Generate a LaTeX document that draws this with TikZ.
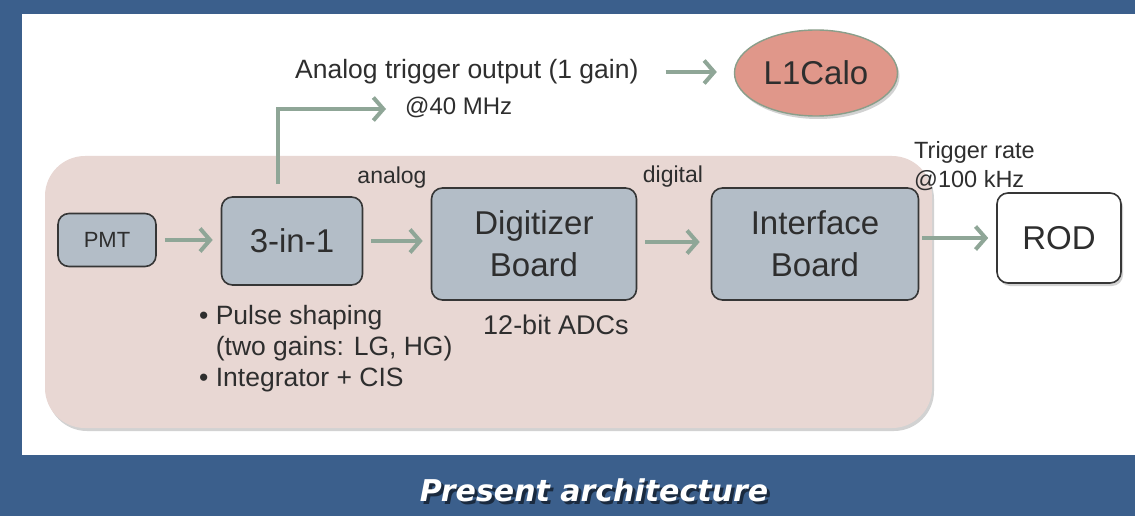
\documentclass[tikz,border=0pt]{standalone}
\usepackage{fontspec}
\setmainfont{Liberation Sans}
\newfontfamily\capfont{DejaVu Sans}
\usepackage{tikz}
\usetikzlibrary{arrows.meta, shapes.geometric, shadows}

\definecolor{slideblue}{HTML}{3B5F8C}
\definecolor{panelpink}{HTML}{E8D7D3}
\definecolor{boardfill}{HTML}{B3BDC7}
\definecolor{boardline}{HTML}{363636}
\definecolor{flowgreen}{HTML}{8FA697}
\definecolor{calofill}{HTML}{E0978A}
\definecolor{caloline}{HTML}{8A9E8A}
\definecolor{inktxt}{HTML}{2E2E2E}

\tikzset{
    board/.style={draw=boardline, fill=boardfill, line width=1.6pt, rounded corners=11pt,
        text=inktxt, align=center, inner sep=0pt, font=\fontsize{33}{42}\selectfont},
    flow/.style={draw=flowgreen, line width=4pt,
        -{Straight Barb[length=10pt, width=23pt]}, shorten <=8pt, shorten >=8pt},
    lbl/.style={text=inktxt, inner sep=0pt, font=\fontsize{23}{29}\selectfont},
    softshadow/.style={drop shadow={shadow xshift=2pt, shadow yshift=-3pt, opacity=0.35}}
}

\begin{document}
\begin{tikzpicture}[x=1pt, y=-1pt]
    % slide background and panel
    \fill[slideblue] (0,0) rectangle (1135,516);
    \fill[white] (22,14) rectangle (1135,455);
    \fill[panelpink, rounded corners=40pt, softshadow] (45,156) rectangle (932,428);

    % front-end chain
    \node[board, minimum width=98pt, minimum height=53pt, font=\fontsize{22}{26}\selectfont] (pmt) at (107,240) {PMT};
    \node[board, minimum width=141pt, minimum height=88pt] (tin) at (292,241) {3-in-1};
    \node[board, minimum width=205pt, minimum height=112pt] (digi) at (534,244) {Digitizer\\Board};
    \node[board, minimum width=207pt, minimum height=112pt] (intf) at (815,244) {Interface\\Board};
    \node[board, fill=white, softshadow, minimum width=124pt, minimum height=90pt] (rod) at (1059,238) {ROD};
    \node[ellipse, draw=caloline, line width=1.4pt, fill=calofill, softshadow, text=inktxt,
        minimum width=163pt, minimum height=86pt, inner sep=0pt, font=\fontsize{33}{40}\selectfont] (calo) at (816,73) {L1Calo};

    % labels
    \node[lbl, anchor=west, font=\fontsize{26.5}{30}\selectfont] (trigout) at (295,72) {Analog trigger output (1 gain)};
    \node[lbl, anchor=west, font=\fontsize{24}{29}\selectfont] (rate40) at (405,107) {@40 MHz};
    \node[lbl] (analog) at (392,178) {analog};
    \node[lbl] (digital) at (673,177) {digital};
    \node[lbl, anchor=north west, align=left, font=\fontsize{23.5}{29}\selectfont] (rate100) at (914,141) {Trigger rate\\@100 kHz};
    \node[lbl, font=\fontsize{27}{31}\selectfont] (adcs) at (556,325) {12-bit ADCs};
    \node[lbl, anchor=north west, align=left, font=\fontsize{26.5}{31}\selectfont] (notes) at (199,305)
        {\textbullet~Pulse shaping\\\phantom{\textbullet~}(two gains: LG, HG)\\\textbullet~Integrator + CIS};

    % signal flow
    \draw[flow] (pmt.east) -- (tin.west |- pmt.east);
    \draw[flow] (tin.east) -- (digi.west |- tin.east);
    \draw[flow, shorten >=11pt] (digi.east |- 0,242) -- (intf.west |- 0,242);
    \draw[flow, shorten <=3pt] (intf.east |- rod.west) -- (rod.west);
    \coordinate (tap) at (278,109);
    \coordinate (tapend) at (386,109);
    \draw[flow, shorten <=12pt, shorten >=0pt] (tin.north -| tap) -- (tap) -- (tapend);
    \draw[flow, shorten <=27pt, shorten >=17pt] (trigout.east) -- (calo.west |- trigout.east);

    % caption
    \node[text=black, opacity=0.55, font=\capfont\bfseries\itshape\fontsize{30}{36}\selectfont] (titleshade) at (597,493) {Present architecture};
    \node[text=white, font=\capfont\bfseries\itshape\fontsize{30}{36}\selectfont] (title) at (594,490) {Present architecture};
\end{tikzpicture}
\end{document}
